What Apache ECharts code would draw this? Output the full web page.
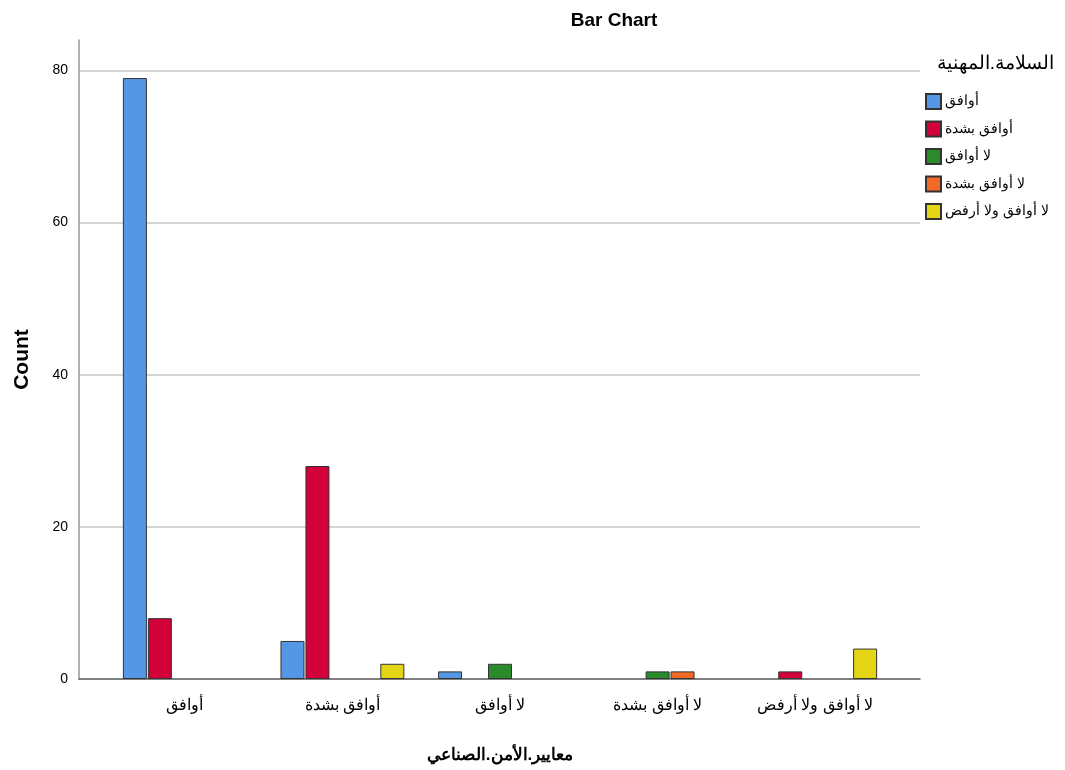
<!DOCTYPE html>
<html>
<head>
<meta charset="utf-8">
<script src="https://cdn.jsdelivr.net/npm/echarts@6/dist/echarts.min.js"></script>
<style>html,body{margin:0;padding:0;background:#fff}#c{width:1065px;height:770px}</style>
</head>
<body>
<div id="c"></div>
<script>
const categories = ['أوافق', 'أوافق بشدة', 'لا أوافق', 'لا أوافق بشدة', 'لا أوافق ولا أرفض'];
const seriesNames = ['أوافق', 'أوافق بشدة', 'لا أوافق', 'لا أوافق بشدة', 'لا أوافق ولا أرفض'];
const agree = [79, 5, 1, 0, 0];
const stronglyAgree = [8, 28, 0, 0, 1];
const disagree = [0, 0, 2, 1, 0];
const stronglyDisagree = [0, 0, 0, 1, 0];
const neutral = [0, 2, 0, 0, 4];
const yTicks = [0, 20, 40, 60, 80];

const colors = ['#5597E5', '#D2013A', '#2B8A2B', '#F26A25', '#E4D614'];
const values = [agree, stronglyAgree, disagree, stronglyDisagree, neutral];
const font = 'Liberation Sans, Arial, sans-serif';

const chart = echarts.init(document.getElementById('c'), null, {renderer: 'canvas'});
chart.setOption({
  backgroundColor: '#fff',
  animation: false,
  title: [
    {text: 'Bar Chart', left: 609, top: 6, textAlign: 'center',
     textStyle: {fontFamily: font, fontSize: 19, fontWeight: 'bold', color: '#000'}},
    {text: 'السلامة.المهنية', right: 6, top: 49,
     textStyle: {fontFamily: font, fontSize: 19, fontWeight: 'normal', color: '#000'}}
  ],
  legend: {
    orient: 'vertical', left: 920, top: 88,
    itemWidth: 15, itemHeight: 15, itemGap: 10.5,
    icon: 'rect',
    data: seriesNames,
    textStyle: {fontFamily: font, fontSize: 14, color: '#000', padding: [0, 0, 0, -1]}
  },
  grid: [
    {left: 79, right: 145, top: 40, bottom: 91, outerBoundsMode: 'none', containLabel: false},
    {left: 106, right: 171, top: 40, bottom: 91, outerBoundsMode: 'none', containLabel: false}
  ],
  xAxis: [
    {type: 'category', gridIndex: 0, data: categories,
     axisLine: {lineStyle: {color: '#555', width: 1.5}},
     axisTick: {show: false}, axisLabel: {show: false}, splitLine: {show: false}},
    {type: 'category', gridIndex: 1, data: categories,
     axisLine: {show: false}, axisTick: {show: false},
     axisLabel: {fontFamily: font, fontSize: 16, color: '#000', margin: 19},
     name: 'معايير.الأمن.الصناعي', nameLocation: 'middle', nameGap: 68,
     nameTextStyle: {fontFamily: font, fontSize: 17, fontWeight: 'bold', color: '#000'}}
  ],
  yAxis: [
    {type: 'value', gridIndex: 0, min: 0, max: 84, interval: 20,
     axisLine: {show: true, lineStyle: {color: '#999', width: 1.5}},
     axisTick: {show: false},
     axisLabel: {fontFamily: font, fontSize: 14, color: '#000', margin: 11,
       formatter: v => yTicks.includes(v) ? String(v) : ''},
     splitLine: {show: true, showMinLine: false, showMaxLine: false, lineStyle: {color: '#C8C8C8', width: 1.5}},
     name: 'Count', nameLocation: 'middle', nameGap: 46,
     nameTextStyle: {fontFamily: font, fontSize: 21, fontWeight: 'bold', color: '#000'}},
    {type: 'value', gridIndex: 1, min: 0, max: 84, interval: 20, show: false, splitLine: {show: false}}
  ],
  series: seriesNames.map((n, i) => ({
    name: n, type: 'bar', xAxisIndex: 1, yAxisIndex: 1,
    barWidth: 24, barGap: '4%',
    itemStyle: {color: colors[i], borderColor: '#333', borderWidth: 1},
    data: values[i].map(v => v === 0 ? '-' : v)
  }))
});
</script>
</body>
</html>
